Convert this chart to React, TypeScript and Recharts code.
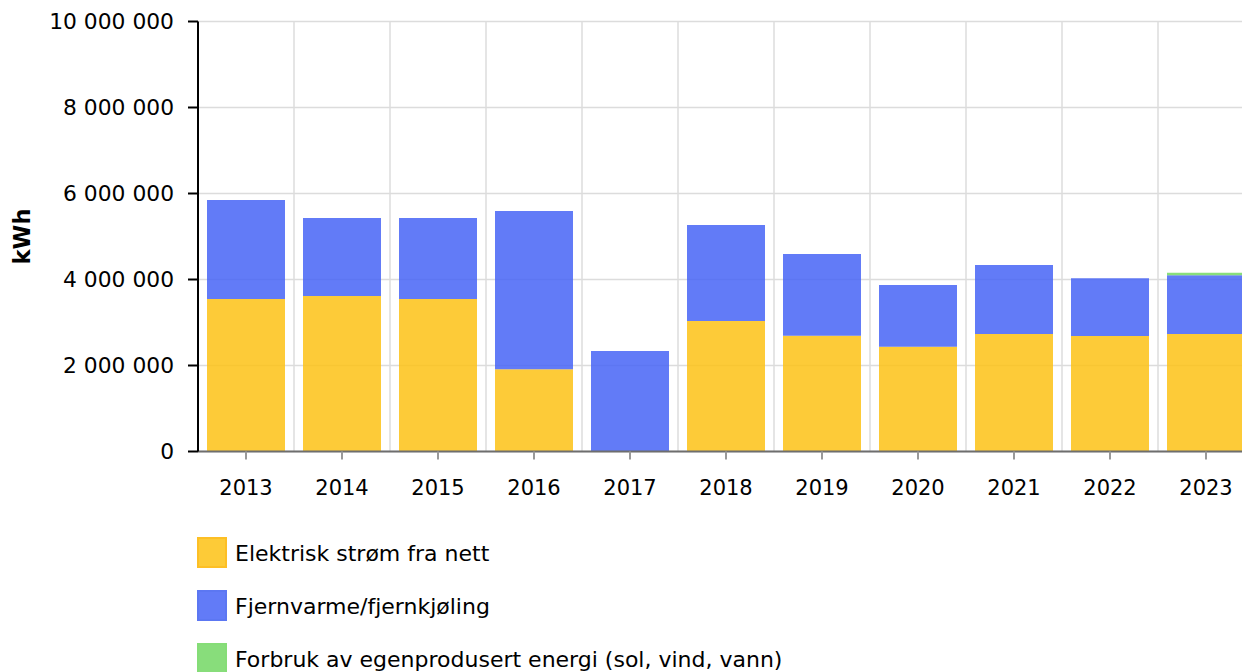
import React from 'react';
import { BarChart, Bar, XAxis, YAxis, CartesianGrid, Legend, Label } from 'recharts';

const years = ['2013', '2014', '2015', '2016', '2017', '2018', '2019', '2020', '2021', '2022', '2023'];
const elektrisk = [3547000, 3616000, 3547000, 1911000, 0, 3035000, 2694000, 2438000, 2733000, 2686000, 2733000];
const fjernvarme = [2302000, 1814000, 1883000, 3682000, 2337000, 2232000, 1899000, 1434000, 1604000, 1341000, 1365000];
const egenprodusert = [0, 0, 0, 0, 0, 0, 0, 0, 0, 0, 60000];
const yTicks = [0, 2000000, 4000000, 6000000, 8000000, 10000000];

const series = [
  { key: 'elektrisk', name: 'Elektrisk strøm fra nett', fill: '#FDC215', border: '#FDB500' },
  { key: 'fjernvarme', name: 'Fjernvarme/fjernkjøling', fill: '#4764F6', border: '#4060F0' },
  { key: 'egenprodusert', name: 'Forbruk av egenprodusert energi (sol, vind, vann)', fill: '#74D864', border: '#70D860' },
];

const data = years.map((year, i) => ({
  year,
  elektrisk: elektrisk[i],
  fjernvarme: fjernvarme[i],
  egenprodusert: egenprodusert[i],
}));

const font = '"DejaVu Sans", Verdana, sans-serif';
const fmt = (v: number) => String(v).replace(/\B(?=(\d{3})+(?!\d))/g, ' ');

const renderKwh = (props: any) => {
  const vb = props.viewBox || {};
  const cy = (vb.y || 0) + (vb.height || 0) / 2;
  return (
    <text
      x={22}
      y={cy}
      transform={`rotate(-90, 22, ${cy})`}
      textAnchor="middle"
      dominantBaseline="central"
      fontFamily={font}
      fontSize={22.5}
      fontWeight="bold"
      fill="#000"
    >
      kWh
    </text>
  );
};

const renderLegend = () => (
  <div style={{ fontFamily: font, fontSize: 22, color: '#000' }}>
    {series.map((s) => (
      <div key={s.key} style={{ display: 'flex', alignItems: 'center', height: 31, marginBottom: 22 }}>
        <div
          style={{
            width: 30,
            height: 31,
            boxSizing: 'border-box',
            background: s.fill,
            opacity: 0.85,
            border: `2px solid ${s.border}`,
            marginRight: 8,
          }}
        />
        <span style={{ whiteSpace: 'nowrap', position: 'relative', top: 1 }}>{s.name}</span>
      </div>
    ))}
  </div>
);

export default function App() {
  const chartW = 1290;
  return (
    <div style={{ position: 'fixed', left: 0, top: 0, width: 1242, height: 672, overflow: 'hidden', background: '#fff' }}>
      <BarChart
        width={chartW}
        height={672}
        data={data}
        margin={{ top: 21.5, right: chartW - 1254, left: 0, bottom: 180.5 }}
        barSize={78}
      >
        <CartesianGrid
          stroke="#dcdcdc"
          strokeWidth={1.5}
          verticalCoordinatesGenerator={({ offset }: any) =>
            years.map((_, i) => offset.left + ((i + 1) * offset.width) / years.length)
          }
        />
        <XAxis
          dataKey="year"
          height={40}
          tickSize={8}
          tickMargin={21}
          axisLine={{ stroke: '#6e6e6e', strokeWidth: 2 }}
          tickLine={{ stroke: '#999', strokeWidth: 2 }}
          tick={{ fill: '#000', fontSize: 21, fontFamily: font }}
          interval={0}
        />
        <YAxis
          width={198}
          domain={[0, 10000000]}
          ticks={yTicks}
          tickFormatter={fmt}
          tickSize={10}
          tickMargin={14}
          axisLine={{ stroke: '#000', strokeWidth: 2 }}
          tickLine={{ stroke: '#000', strokeWidth: 2 }}
          tick={{ fill: '#000', fontSize: 21.8, fontFamily: font }}
          interval={0}
        >
          <Label value="kWh" content={renderKwh} />
        </YAxis>
        <Legend
          layout="vertical"
          align="center"
          verticalAlign="middle"
          wrapperStyle={{ left: 197, top: 537, width: 900 }}
          content={renderLegend}
        />
        {series.map((s) => (
          <Bar
            key={s.key}
            dataKey={s.key}
            name={s.name}
            stackId="a"
            fill={s.fill}
            fillOpacity={0.85}
            isAnimationActive={false}
          />
        ))}
      </BarChart>
    </div>
  );
}
